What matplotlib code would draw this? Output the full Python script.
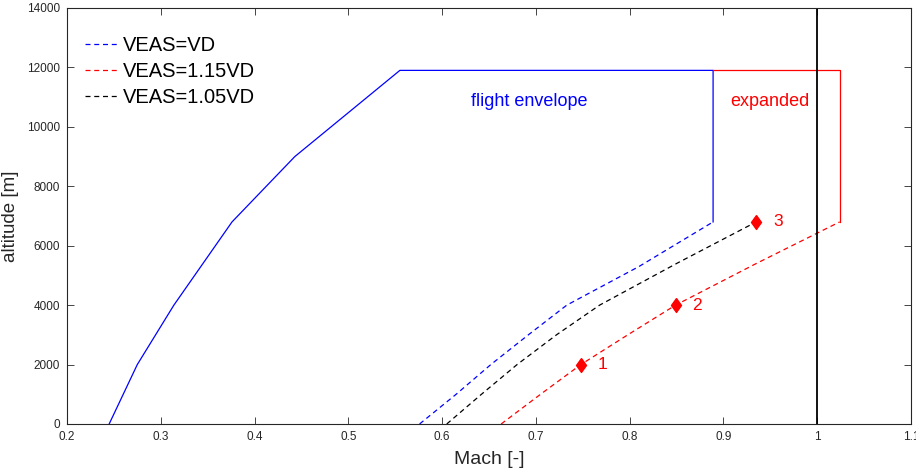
import matplotlib.pyplot as plt
from matplotlib.ticker import FormatStrFormatter, MultipleLocator

# envolvente de vuelo (VEAS=VD)
env_mach = [0.245, 0.275, 0.314, 0.376, 0.443, 0.555, 0.889, 0.889]
env_alt = [0, 2000, 4000, 6800, 9000, 11900, 11900, 6800]

# curvas VEAS
vd_mach = [0.576, 0.615, 0.652, 0.692, 0.733, 0.810, 0.889]
vd_alt = [0, 1000, 2000, 3000, 4000, 5300, 6800]

v105_mach = [0.605, 0.642, 0.680, 0.722, 0.768, 0.850, 0.935]
v105_alt = [0, 1000, 2000, 3000, 4000, 5400, 6800]

v115_mach = [0.663, 0.705, 0.748, 0.798, 0.849, 0.935, 1.024]
v115_alt = [0, 1000, 2000, 3000, 4000, 5400, 6800]

# envolvente ampliada
exp_mach = [0.889, 1.024, 1.024]
exp_alt = [11900, 11900, 6800]

# puntos de ensayo
pt_mach = [0.748, 0.849, 0.935]
pt_alt = [2000, 4000, 6800]
pt_labels = ["1", "2", "3"]

plt.rcParams["font.family"] = ["Liberation Sans", "DejaVu Sans"]

fig = plt.figure(figsize=(9.16, 4.75), dpi=100)
ax = fig.add_axes([0.0731, 0.1074, 0.9214, 0.8758])

dash = (0, (4, 3))
ax.plot(env_mach, env_alt, color="#0000ff", lw=0.9)
ax.plot(vd_mach, vd_alt, color="#0000ff", lw=0.9, ls=dash, label="VEAS=VD")
ax.plot(v115_mach, v115_alt, color="#ff0000", lw=0.9, ls=dash, label="VEAS=1.15VD")
ax.plot(v105_mach, v105_alt, color="black", lw=0.9, ls=dash, label="VEAS=1.05VD")
ax.plot(exp_mach, exp_alt, color="#ff0000", lw=0.9)
ax.axvline(1.0, color="black", lw=1.3)

diamond = [(0, 1), (0.72, 0), (0, -1), (-0.72, 0), (0, 1)]
ax.plot(pt_mach, pt_alt, ls="none", marker=diamond, ms=10, color="#ff0000")
for m, a, lab in zip(pt_mach, pt_alt, pt_labels):
    ax.text(m + 0.018, a, lab, color="#ff0000", fontsize=12.5, va="center", ha="left")

ax.text(0.693, 10850, "flight envelope", color="#0000ff", fontsize=13, ha="center", va="center")
ax.text(0.95, 10850, "expanded", color="#ff0000", fontsize=13, ha="center", va="center")

ax.set_xlim(0.2, 1.1)
ax.set_ylim(0, 14000)
ax.xaxis.set_major_locator(MultipleLocator(0.1))
ax.yaxis.set_major_locator(MultipleLocator(2000))
ax.xaxis.set_major_formatter(FormatStrFormatter("%g"))

ax.tick_params(direction="in", top=True, right=True, length=5, width=0.6,
               labelsize=8.5, colors="#262626", pad=5)
for s in ax.spines.values():
    s.set_color("#262626")
    s.set_linewidth(0.8)

ax.set_xlabel("Mach [-]", fontsize=14, color="#262626", labelpad=6)
ax.set_ylabel("altitude [m]", fontsize=13.5, color="#262626", labelpad=6)

leg = ax.legend(loc="upper left", bbox_to_anchor=(-0.012, 1.0), frameon=False,
                fontsize=14.5, handlelength=1.7, handletextpad=0.2,
                borderaxespad=1.0, labelspacing=0.35)

fig.savefig("out.png", dpi=100)
